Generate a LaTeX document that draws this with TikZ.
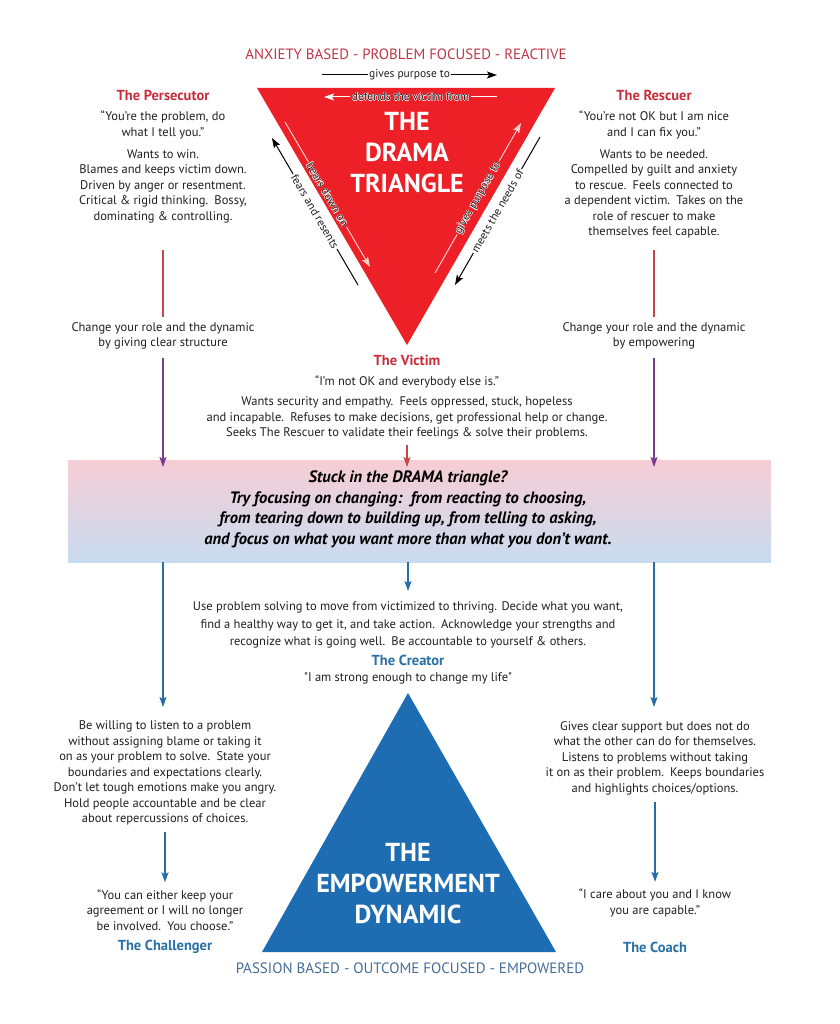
\documentclass[tikz,border=0pt]{standalone}
\usepackage{fontspec}
\setmainfont{PT Sans}
\usetikzlibrary{arrows.meta}
\definecolor{dramared}{RGB}{236,32,38}
\definecolor{titlered}{RGB}{200,45,60}
\definecolor{headred}{RGB}{190,55,70}
\definecolor{empblue}{RGB}{30,108,178}
\definecolor{titleblue}{RGB}{40,112,165}
\definecolor{footblue}{RGB}{70,110,150}
\definecolor{arrowblue}{RGB}{40,110,165}
\definecolor{purp}{RGB}{122,60,142}
\definecolor{lred}{RGB}{200,70,75}
\definecolor{bandtop}{RGB}{247,205,213}
\definecolor{bandbot}{RGB}{200,220,240}
\definecolor{txt}{RGB}{35,31,32}
\definecolor{pinkline}{RGB}{252,205,205}
\newcommand\halo[1]{\leavevmode\rlap{\textcolor{white}{\hspace{0.6pt}#1}}\rlap{\textcolor{white}{\hspace{-0.6pt}#1}}\rlap{\textcolor{white}{\raisebox{0.6pt}{#1}}}\rlap{\textcolor{white}{\raisebox{-0.6pt}{#1}}}#1}
\begin{document}
\begin{tikzpicture}[x=1pt,y=-1pt,
  body/.style={font=\fontsize{12.5}{15.5}\selectfont, text=txt, align=center, inner sep=0pt},
  ttlred/.style={font=\fontsize{14.5}{17}\selectfont\bfseries, text=titlered, inner sep=0pt},
  ttlblue/.style={font=\fontsize{14.5}{17}\selectfont\bfseries, text=titleblue, inner sep=0pt},
  bigw/.style={font=\fontsize{26}{31}\selectfont\bfseries, text=white, align=center, inner sep=0pt},
  lbl/.style={font=\fontsize{11.5}{13}\selectfont, text=txt, inner sep=1.5pt},
  tip/.style={-{Stealth[length=10pt,width=7pt,inset=2pt]}},
  blackarrow/.style={draw=black, line width=1pt, tip},
  whitearrow/.style={draw=white, line width=1pt, tip},
  pinkarrow/.style={draw=pinkline, line width=1pt, tip},
  redln/.style={draw=lred, line width=1.2pt},
  purparrow/.style={draw=purp, line width=1.3pt, tip},
  redarrow/.style={draw=lred, line width=1.3pt, tip},
  bluearrow/.style={draw=arrowblue, line width=1.4pt, tip}
]
\fill[white] (0,0) rectangle (839,1024);
\useasboundingbox (0,0) rectangle (839,1024);

% band (drawn first so arrow tips lie on top)
\shade[top color=bandtop, bottom color=bandbot] (68,460) rectangle (771,562);

% header / footer
\node[font=\fontsize{14.9}{17}\selectfont, text=headred] (hdr) at (406,54) {ANXIETY BASED - PROBLEM FOCUSED - REACTIVE};
\node[font=\fontsize{15}{17}\selectfont, text=footblue] (ftr) at (410,968) {PASSION BASED - OUTCOME FOCUSED - EMPOWERED};

% drama triangle
\coordinate (rtl) at (257,88); \coordinate (rtr) at (555,88); \coordinate (rb) at (407,345);
\fill[dramared] (rtl) -- (rtr) -- (rb) -- cycle;
\node[bigw] (dt) at (407,153) {THE\\DRAMA\\TRIANGLE};

\coordinate (gp1) at (322,75); \coordinate (gp2) at (497,75);
\draw[blackarrow] (gp1) -- node[lbl, fill=white] (gpl) {gives purpose to} (gp2);
\coordinate (dv1) at (497,97); \coordinate (dv2) at (324,97);
\draw[whitearrow] (dv1) -- node[lbl, fill=dramared] (dvl) {\halo{defends the victim from}} (dv2);

\coordinate (bd1) at (285,122); \coordinate (bd2) at (370,267);
\draw[pinkarrow] (bd1) -- node[lbl, sloped, fill=dramared] (bdl) {\halo{bears down on}} (bd2);
\coordinate (fr1) at (358,285); \coordinate (fr2) at (272,138);
\draw[blackarrow] (fr1) -- node[lbl, sloped, fill=white] (frl) {fears and resents} (fr2);
\coordinate (gq1) at (435,273); \coordinate (gq2) at (521,123);
\draw[pinkarrow] (gq1) -- node[lbl, sloped, fill=dramared] (gql) {\halo{gives purpose to}} (gq2);
\coordinate (mn1) at (540,137); \coordinate (mn2) at (455,285);
\draw[blackarrow] (mn1) -- node[lbl, sloped, fill=white] (mnl) {meets the needs of} (mn2);

% persecutor
\node[ttlred] (pers) at (163,95) {The Persecutor};
\node[body] (persq) at (163,125) {“You’re the problem, do\\what I tell you.”};
\node[body] (persd) at (163,186) {Wants to win.\\Blames and keeps victim down.\\Driven by anger or resentment.\\Critical \& rigid thinking.\enspace Bossy,\\dominating \& controlling.};

% rescuer
\node[ttlred] (resc) at (654,95) {The Rescuer};
\node[body] (rescq) at (654,125) {“You’re not OK but I am nice\\and I can fix you.”};
\node[body] (rescd) at (654,194) {Wants to be needed.\\Compelled by guilt and anxiety\\to rescue.\enspace Feels connected to\\a dependent victim.\enspace Takes on the\\role of rescuer to make\\themselves feel capable.};

% change texts
\node[body] (lchg) at (163,336) {Change your role and the dynamic\\by giving clear structure};
\node[body] (rchg) at (654,336) {Change your role and the dynamic\\by empowering};

% victim
\node[ttlred] (vic) at (407,360) {The Victim};
\node[body] (vicq) at (407,382) {“I’m not OK and everybody else is.”};
\node[body] (vicd) at (407,418) {Wants security and empathy.\enspace Feels oppressed, stuck, hopeless\\and incapable.\enspace Refuses to make decisions, get professional help or change.\\Seeks The Rescuer to validate their feelings \& solve their problems.};

% connectors upper
\coordinate (l0) at (163,250); \coordinate (r0) at (654,250);
\coordinate (la) at (163,467); \coordinate (ra) at (654,467); \coordinate (va) at (407,467);
\draw[redln, shorten >=5pt] (l0) -- (lchg);
\draw[redln, shorten >=5pt] (r0) -- (rchg);
\draw[purparrow, shorten <=8pt] (lchg) -- (la);
\draw[purparrow, shorten <=8pt] (rchg) -- (ra);
\draw[redarrow, shorten <=6pt] (vicd) -- (va);

% band text
\node[font=\fontsize{16.5}{20.5}\selectfont\bfseries\itshape, text=black, align=center, inner sep=0pt] (band) at (408,509.5)
 {Stuck in the DRAMA triangle?\\Try focusing on changing:\enspace from reacting to choosing,\\from tearing down to building up, from telling to asking,\\and focus on what you want more than what you don’t want.};

% creator
\node[body, font=\fontsize{12.5}{17.5}\selectfont] (creatd) at (408,625) {Use problem solving to move from victimized to thriving. Decide what you want,\\find a healthy way to get it, and take action.\enspace Acknowledge your strengths and\\recognize what is going well.\enspace Be accountable to yourself \& others.};
\node[ttlblue] (creat) at (408,660) {The Creator};
\node[body] (creatq) at (408,678) {\addfontfeatures{Ligatures=TeXOff}"I am strong enough to change my life"};

% empowerment triangle
\coordinate (bt) at (408,693); \coordinate (bl) at (262,952); \coordinate (br) at (556,952);
\fill[empblue] (bt) -- (br) -- (bl) -- cycle;
\node[bigw] (ed) at (408,884) {THE\\EMPOWERMENT\\DYNAMIC};

% challenger
\node[body] (chald) at (165,773) {Be willing to listen to a problem\\without assigning blame or taking it\\on as your problem to solve.\enspace State your\\boundaries and expectations clearly.\\Don’t let tough emotions make you angry.\\Hold people accountable and be clear\\about repercussions of choices.};
\node[body] (chalq) at (165,910) {“You can either keep your\\agreement or I will no longer\\be involved.\enspace You choose.”};
\node[ttlblue] (chal) at (165,947) {The Challenger};

% coach
\node[body] (coachd) at (655,758) {Gives clear support but does not do\\what the other can do for themselves.\\Listens to problems without taking\\it on as their problem.\enspace Keeps boundaries\\and highlights choices/options.};
\node[body] (coachq) at (655,903) {“I care about you and I know\\you are capable.”};
\node[ttlblue] (coach) at (655,947) {The Coach};

% connectors lower
\coordinate (b0l) at (163,562); \coordinate (b1l) at (163,707);
\coordinate (b0c) at (408,562); \coordinate (b1c) at (408,591);
\coordinate (b0r) at (654,562); \coordinate (b1r) at (654,707);
\draw[bluearrow] (b0l) -- (b1l);
\draw[bluearrow] (b0c) -- (b1c);
\draw[bluearrow] (b0r) -- (b1r);
\draw[bluearrow, shorten <=7pt, shorten >=7pt] (chald) -- (chalq);
\draw[bluearrow, shorten <=7pt, shorten >=7pt] (coachd) -- (coachq);
\end{tikzpicture}
\end{document}
